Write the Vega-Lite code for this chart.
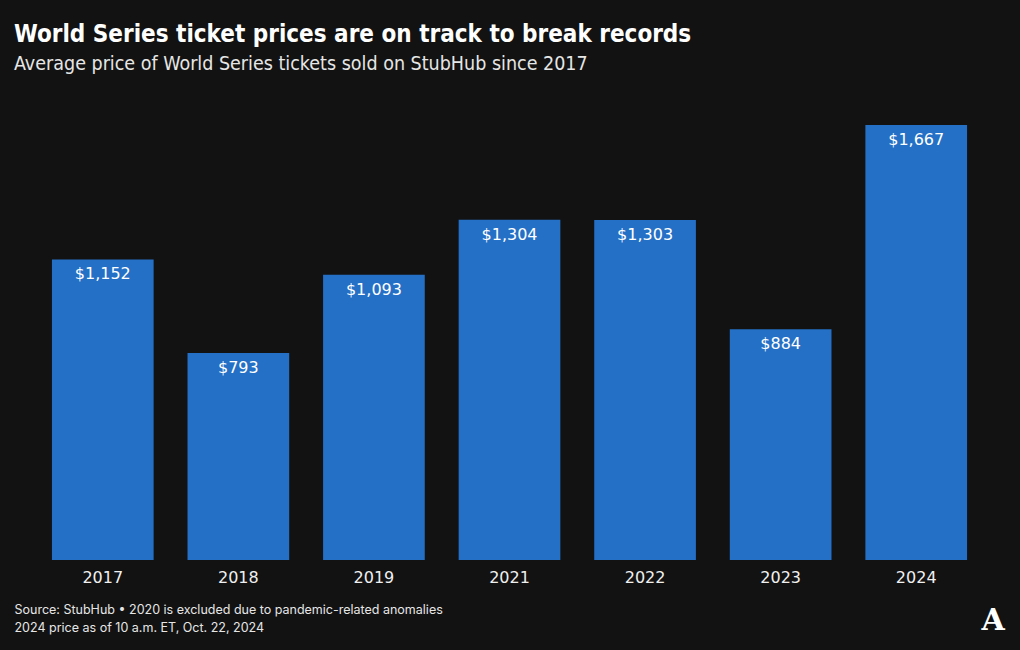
{
  "$schema": "https://vega.github.io/schema/vega-lite/v6.json",
  "autosize": "none",
  "width": 949,
  "height": 435,
  "padding": {"left": 35, "top": 125, "right": 36, "bottom": 90},
  "background": "#121212",
  "config": {"view": {"stroke": null}},
  "title": {
    "text": "World Series ticket prices are on track to break records",
    "subtitle": "Average price of World Series tickets sold on StubHub since 2017",
    "anchor": "start",
    "frame": "group",
    "dx": -21,
    "offset": 52,
    "font": "DejaVu Sans Condensed, sans-serif",
    "fontSize": 24,
    "fontWeight": "bold",
    "color": "#ffffff",
    "subtitleFont": "DejaVu Sans Condensed, sans-serif",
    "subtitleFontSize": 19.5,
    "subtitleFontWeight": "normal",
    "subtitleColor": "#e6e6e6",
    "subtitlePadding": 8
  },
  "data": {
    "values": [
      {"year": "2017", "price": 1152, "label": "$1,152"},
      {"year": "2018", "price": 793, "label": "$793"},
      {"year": "2019", "price": 1093, "label": "$1,093"},
      {"year": "2021", "price": 1304, "label": "$1,304"},
      {"year": "2022", "price": 1303, "label": "$1,303"},
      {"year": "2023", "price": 884, "label": "$884"},
      {"year": "2024", "price": 1667, "label": "$1,667"}
    ]
  },
  "encoding": {
    "x": {
      "field": "year",
      "type": "nominal",
      "sort": null,
      "scale": {"paddingInner": 0.25, "paddingOuter": 0.125},
      "axis": {
        "title": ["Source: StubHub • 2020 is excluded due to pandemic-related anomalies", "2024 price as of 10 a.m. ET, Oct. 22, 2024"],
        "titleFont": "Inter",
        "titleFontSize": 12.5,
        "titleFontWeight": "normal",
        "titleColor": "#e6e6e6",
        "titleAnchor": "start",
        "titleAlign": "left",
        "titleBaseline": "alphabetic",
        "titleX": -21,
        "titleY": 53,
        "titleLineHeight": 18,
        "labelAngle": 0,
        "labelFont": "DejaVu Sans",
        "labelFontSize": 16,
        "labelColor": "#f0f0f0",
        "labelPadding": 9,
        "domain": false,
        "ticks": false,
        "grid": false
      }
    },
    "y": {
      "field": "price",
      "type": "quantitative",
      "scale": {"domain": [0, 1667], "nice": false},
      "axis": null
    }
  },
  "layer": [
    {"mark": {"type": "bar", "color": "#2470c6"}},
    {
      "mark": {"type": "text", "baseline": "top", "dy": 7, "font": "DejaVu Sans", "fontSize": 16, "color": "#ffffff"},
      "encoding": {"text": {"field": "label"}}
    },
    {
      "data": {"values": [{"year": "2024", "price": 0, "logo": "A"}]},
      "mark": {"type": "text", "baseline": "alphabetic", "dx": 77, "dy": 70, "font": "DejaVu Serif", "fontWeight": "bold", "fontSize": 30, "color": "#ffffff"},
      "encoding": {"text": {"field": "logo"}}
    }
  ]
}
